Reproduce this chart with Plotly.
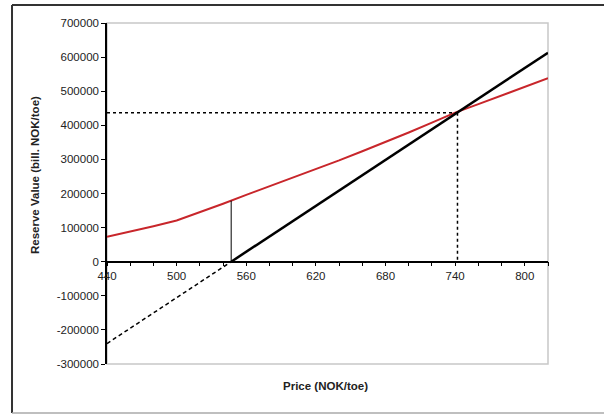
import plotly.graph_objects as go

# Data
price = [440, 460, 480, 500, 520, 540, 560, 580, 600, 620, 640, 660, 680, 700, 720, 740, 760, 780, 800, 820]
reserve_value = [73000, 88000, 104000, 121000, 145000, 170000, 196000, 221000, 246000, 271000,
                 297000, 324000, 351000, 379000, 408000, 437000, 462000, 488000, 513000, 538000]

line_price = [547, 820]
line_value = [0, 613000]
ext_price = [440, 547]
ext_value = [-240000, 0]

breakeven_price = [547, 547]
breakeven_value = [0, 179000]

cross_h_price = [440, 742]
cross_h_value = [437000, 437000]
cross_v_price = [742, 742]
cross_v_value = [437000, 0]

y_tick_vals = [-300000, -200000, -100000, 0, 100000, 200000, 300000, 400000, 500000, 600000, 700000]
y_tick_text = ["-300000", "-200000", "-100000", "0", "100000", "200000", "300000",
               "400000", "500000", "600000", "700000"]

fig = go.Figure()
fig.add_trace(go.Scatter(x=price, y=reserve_value, mode="lines",
                         line=dict(color="#c8262b", width=2), hoverinfo="skip"))
fig.add_trace(go.Scatter(x=line_price, y=line_value, mode="lines",
                         line=dict(color="black", width=2.5), hoverinfo="skip"))
fig.add_trace(go.Scatter(x=ext_price, y=ext_value, mode="lines",
                         line=dict(color="black", width=1.5, dash="4px,3px"), hoverinfo="skip"))
fig.add_trace(go.Scatter(x=breakeven_price, y=breakeven_value, mode="lines",
                         line=dict(color="black", width=1), hoverinfo="skip"))
fig.add_trace(go.Scatter(x=cross_h_price, y=cross_h_value, mode="lines",
                         line=dict(color="black", width=1.5, dash="dot"), hoverinfo="skip"))
fig.add_trace(go.Scatter(x=cross_v_price, y=cross_v_value, mode="lines",
                         line=dict(color="black", width=1.5, dash="dot"), hoverinfo="skip"))

font = dict(family="Liberation Sans, Arial, sans-serif", size=11.5, color="#222")
title_font = dict(family="Liberation Sans, Arial, sans-serif", size=11.5, color="#222")

fig.update_layout(
    width=604, height=414,
    margin=dict(l=107, r=56, t=23, b=50),
    paper_bgcolor="white", plot_bgcolor="white",
    showlegend=False,
    font=font,
    xaxis=dict(range=[440, 820], tick0=440, dtick=60, showgrid=False, zeroline=False,
               showline=True, linecolor="black", linewidth=1.5,
               anchor="free", position=0.3,
               ticks="outside", ticklen=4, tickcolor="black",
               minor=dict(dtick=20, tick0=440, ticks="outside", ticklen=4, tickcolor="black"),
               tickfont=font),
    yaxis=dict(range=[-300000, 700000], tickmode="array", tickvals=y_tick_vals, ticktext=y_tick_text,
               showgrid=False, zeroline=False,
               showline=True, linecolor="black", linewidth=1.5,
               ticks="outside", ticklen=4, tickcolor="black", tickfont=font),
    shapes=[
        dict(type="rect", xref="paper", yref="paper", x0=0, y0=0, x1=1, y1=1,
             line=dict(color="#c8c8c8", width=1.5), layer="below"),
        dict(type="line", xref="paper", yref="paper", x0=-0.2154, x1=1.13, y0=1.053, y1=1.053,
             line=dict(color="#333", width=2)),
        dict(type="line", xref="paper", yref="paper", x0=-0.2154, x1=-0.2154, y0=-0.1437, y1=1.053,
             line=dict(color="#333", width=2)),
        dict(type="line", xref="paper", yref="paper", x0=-0.2154, x1=1.13, y0=-0.1437, y1=-0.1437,
             line=dict(color="#aaa", width=1.5)),
    ],
    annotations=[
        dict(text="<b>Reserve Value (bill. NOK/toe)</b>", xref="paper", yref="paper",
             x=(35 - 107) / 441, y=(364 - 175) / 341, textangle=-90, showarrow=False,
             font=title_font, xanchor="center", yanchor="middle"),
        dict(text="<b>Price (NOK/toe)</b>", xref="paper", yref="paper",
             x=(325 - 107) / 441, y=(364 - 386) / 341, showarrow=False,
             font=title_font, xanchor="center", yanchor="middle"),
    ],
)

fig.write_html("out.html", config={"displayModeBar": False},
               post_script="document.body.style.margin='0px';document.body.style.overflow='hidden';")
